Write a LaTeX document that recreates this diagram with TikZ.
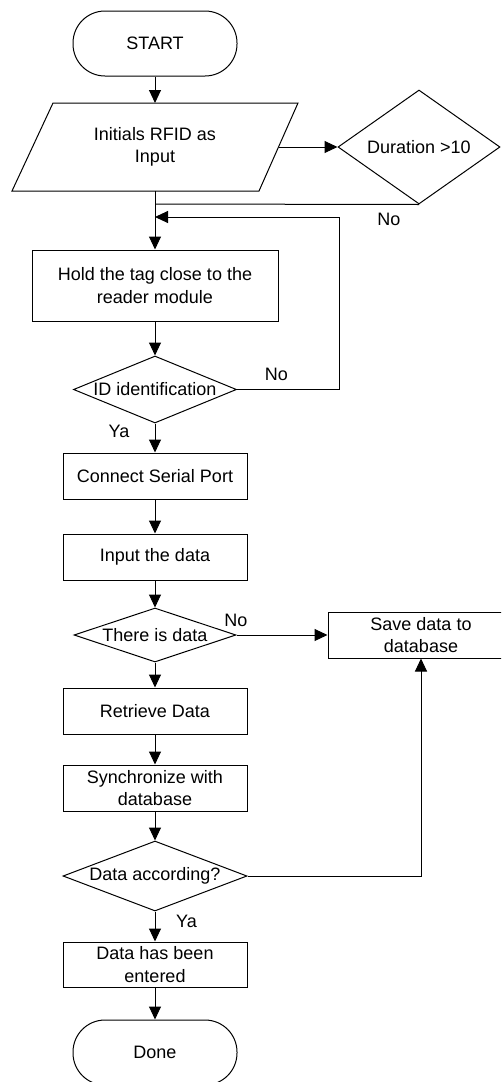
\documentclass[tikz,border=0pt]{standalone}
\usepackage{fontspec}
\setmainfont{Liberation Sans}
\usetikzlibrary{shapes.geometric,arrows.meta}
\begin{document}
\begin{tikzpicture}[x=1pt,y=-1pt,
  line width=1pt,
  every node/.style={font=\fontsize{18}{22.5}\selectfont, inner sep=0pt, align=center},
  proc/.style={draw, rectangle, minimum width=184pt, minimum height=46pt},
  term/.style={draw, rectangle, rounded corners=32pt, minimum width=164pt, minimum height=65pt},
  decide/.style={draw, diamond, aspect=1},
  flow/.style={-{Triangle[length=13pt,width=12pt]}},
  lbl/.style={}
]
\useasboundingbox (0,0) rectangle (501,1082);
\clip (0,0) rectangle (501,1082);

% terminals
\node[term] (start) at (155,43.5) {START};
\node[term] (done) at (155,1052.5) {Done};

% input parallelogram
\coordinate (pa) at (53,103);
\coordinate (pb) at (298,103);
\coordinate (pc) at (259,191);
\coordinate (pd) at (12,191);
\draw (pa) -- (pb) -- (pc) -- (pd) -- cycle;
\node (inp) at (155,147) {Initials RFID as\\Input};
\coordinate (inpT) at (155,103);
\coordinate (inpB) at (155,191);
\coordinate (inpR) at (278.5,147);

% decisions
\node[decide, minimum width=162pt, minimum height=114pt] (dur) at (419,147) {\makebox[0pt]{Duration >10}};
\node[decide, minimum width=163pt, minimum height=67pt] (idd) at (155,389.5) {\makebox[0pt]{ID identification}};
\node[decide, minimum width=162pt, minimum height=54pt] (there) at (155,635) {\makebox[0pt]{There is data}};
\node[decide, minimum width=184pt, minimum height=70pt] (acc) at (155,876) {\makebox[0pt]{Data according?}};

% processes
\node[proc, minimum width=246pt, minimum height=71pt] (hold) at (155,285.5) {Hold the tag close to the\\reader module};
\node[proc] (conn) at (155,476) {Connect Serial Port};
\node[proc] (inpd) at (155,557) {Input the data};
\node[proc] (retr) at (155,711) {Retrieve Data};
\node[proc] (sync) at (155,788) {Synchronize with\\database};
\node[proc, minimum height=45pt] (ent) at (155,964.5) {Data has been\\entered};
\node[proc, minimum width=186pt] (save) at (421,635) {Save data to\\database};

% junctions on the main line
\coordinate (j1) at (155,204);
\coordinate (j2) at (155,217);
\coordinate (loopR) at (339,217);

% connectors
\draw[flow] (start) -- (inpT);
\draw[flow] (inpR) -- (dur.west);
\draw (dur.south) -- (j1);
\draw[flow] (inpB) -- (hold.north);
\draw[flow] (hold) -- (idd.north);
\draw[flow] (idd.east) -| (loopR) -- (j2);
\draw[flow] (idd.south) -- (conn.north);
\draw[flow] (conn) -- (inpd);
\draw[flow] (inpd) -- (there.north);
\draw[flow] (there.east) -- (save.west);
\draw[flow] (there.south) -- (retr.north);
\draw[flow] (retr) -- (sync);
\draw[flow] (sync) -- (acc.north);
\draw[flow] (acc.east) -| (save.south);
\draw[flow] (acc.south) -- (ent.north);
\draw[flow] (ent) -- (done);

% branch labels
\node[lbl] (lNo1) at (389,219) {No};
\node[lbl] (lNo2) at (276.5,374.5) {No};
\node[lbl] (lYa1) at (119,431.5) {Ya};
\node[lbl] (lNo3) at (236,620) {No};
\node[lbl] (lYa2) at (186.5,921.5) {Ya};
\end{tikzpicture}
\end{document}
